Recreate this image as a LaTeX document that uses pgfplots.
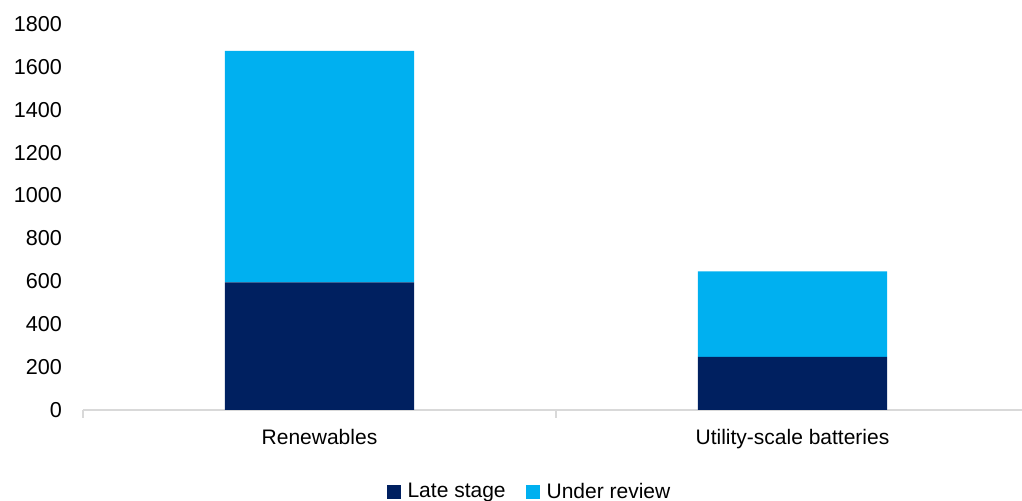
\documentclass[border=0pt]{standalone}
\usepackage{pgfplots}
\pgfplotsset{compat=1.18}
\usepackage{fontspec}
\setmainfont{Liberation Sans}
\definecolor{navy}{RGB}{0,32,96}
\definecolor{lblue}{RGB}{0,176,240}
\definecolor{axgray}{RGB}{217,217,217}
\begin{document}
\begin{tikzpicture}
\begin{axis}[
  scale only axis,
  width=473pt, height=193pt,
  ybar stacked,
  bar width=0.4,
  xmin=-0.5, xmax=1.5,
  ymin=0, ymax=1800,
  ytick={0,200,...,1800},
  xtick={0,1},
  xticklabels={Renewables, Utility-scale batteries},
  axis x line*=bottom,
  axis y line*=left,
  y axis line style={draw=none},
  x axis line style={axgray, line width=0.8pt},
  major tick length=0pt,
  extra x ticks={-0.5,0.5,1.5},
  extra x tick labels={},
  extra x tick style={major tick length=4pt, tick align=outside, tick style={axgray, line width=0.8pt}},
  yticklabel style={font=\fontsize{10.8}{13}\selectfont, anchor=east, xshift=-7pt},
  xticklabel style={font=\fontsize{10.5}{12}\selectfont, yshift=-6pt},
  /pgf/number format/assume math mode=true,
  /pgf/number format/1000 sep={},
  legend style={draw=none, at={(0.473,0)}, anchor=center, yshift=-41pt,
    legend columns=2, font=\fontsize{10.5}{12}\selectfont,
    /tikz/every odd column/.append style={column sep=1.5pt},
    /tikz/every even column/.append style={column sep=8pt}},
  legend image code/.code={\fill[#1] (0pt,-3.5pt) rectangle (7pt,3.5pt);},
  clip=false,
]
\addplot[fill=navy, draw=none] coordinates {(0,595) (1,248)};
\addplot[fill=lblue, draw=none] coordinates {(0,1080) (1,398)};
\legend{Late stage, Under review}
\coordinate (sw) at (rel axis cs:0,0);
\coordinate (ne) at (rel axis cs:1,1);
\end{axis}
\pgfresetboundingbox
\useasboundingbox ([xshift=-41.5pt,yshift=-45.5pt]sw) rectangle ([xshift=469.5pt,yshift=12pt]sw |- ne);
\end{tikzpicture}
\end{document}
